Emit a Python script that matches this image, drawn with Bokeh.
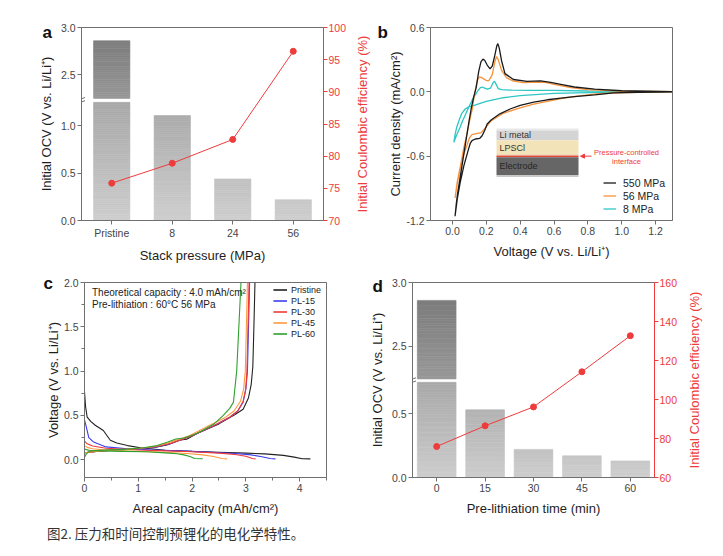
import numpy as np
from bokeh.plotting import figure
from bokeh.models import (Range1d, LinearAxis, FixedTicker, SingleIntervalTicker, Label, Legend,
                          LegendItem, Arrow, NormalHead, ColumnDataSource, Div, PrintfTickFormatter,
                          CustomJSTickFormatter)
from bokeh.layouts import row, column
from bokeh.embed import file_html
from bokeh.resources import INLINE

FONT = "Liberation Sans"
AX = "#707070"
TXT = "#1e1e1e"
TICK_TXT = "#454545"
RED = "#ee3b3b"

# ---------------- data ----------------
pressure_labels = ["Pristine", "8", "24", "56"]
ocv_pressure = [2.86, 1.11, 0.44, 0.22]
ice_pressure = [75.8, 78.9, 82.6, 96.3]

time_labels = ["0", "15", "30", "45", "60"]
ocv_time = [2.86, 0.53, 0.22, 0.17, 0.13]
ice_time = [75.9, 86.5, 96.2, 114.2, 132.7]

ocv_ticks_a = [0.0, 0.5, 1.0, 2.5, 3.0]
ocv_ticks_d = [0.0, 0.5, 2.5, 3.0]

# CV loops: cathodic scan 1.3 V -> 0.01 V, then anodic back to 1.3 V
cv550_v = [1.30, 1.10, 0.95, 0.84, 0.72, 0.64, 0.56, 0.48, 0.40, 0.34, 0.28, 0.23, 0.205, 0.19, 0.175, 0.16, 0.135, 0.115, 0.105, 0.09, 0.067, 0.045, 0.028, 0.015,
           0.022, 0.03, 0.047, 0.065, 0.08, 0.097, 0.11, 0.125, 0.14, 0.155, 0.168, 0.18, 0.19, 0.205, 0.222, 0.235, 0.25, 0.262, 0.268, 0.276, 0.29, 0.31, 0.36, 0.44, 0.52, 0.58, 0.64, 0.72, 0.84, 1.0, 1.3]
cv550_i = [-0.001, -0.004, -0.009, -0.028, -0.045, -0.058, -0.074, -0.097, -0.127, -0.16, -0.205, -0.26, -0.30, -0.36, -0.41, -0.435, -0.44, -0.455, -0.48, -0.56, -0.69, -0.85, -1.0, -1.16,
           -1.05, -0.95, -0.78, -0.6, -0.45, -0.28, -0.16, -0.05, 0.04, 0.19, 0.28, 0.305, 0.295, 0.25, 0.215, 0.24, 0.34, 0.43, 0.45, 0.41, 0.29, 0.17, 0.115, 0.097, 0.102, 0.088, 0.07, 0.045, 0.025, 0.01, 0.002]

cv56_v = [1.30, 1.0, 0.85, 0.75, 0.65, 0.56, 0.48, 0.40, 0.30, 0.225, 0.195, 0.17, 0.14, 0.115, 0.1, 0.085, 0.067, 0.045, 0.03, 0.015,
          0.028, 0.047, 0.067, 0.087, 0.105, 0.117, 0.128, 0.14, 0.15, 0.16, 0.175, 0.2, 0.215, 0.235, 0.25, 0.26, 0.27, 0.29, 0.32, 0.36, 0.42, 0.5, 0.55, 0.6, 0.7, 0.8, 1.0, 1.3]
cv56_i = [-0.001, -0.006, -0.02, -0.038, -0.06, -0.09, -0.115, -0.15, -0.2, -0.275, -0.335, -0.38, -0.39, -0.40, -0.43, -0.5, -0.58, -0.72, -0.84, -0.99,
          -0.84, -0.69, -0.52, -0.38, -0.24, -0.16, -0.04, 0.06, 0.12, 0.14, 0.13, 0.105, 0.105, 0.16, 0.28, 0.33, 0.3, 0.2, 0.13, 0.1, 0.085, 0.09, 0.088, 0.07, 0.04, 0.02, 0.006, 0.001]

cv8_v = [1.3, 1.0, 0.8, 0.6, 0.4, 0.3, 0.2, 0.15, 0.12, 0.095, 0.075, 0.055, 0.04, 0.025, 0.015, 0.008,
         0.025, 0.045, 0.06, 0.08, 0.1, 0.115, 0.13, 0.15, 0.165, 0.175, 0.19, 0.205, 0.225, 0.24, 0.248, 0.258, 0.27, 0.29, 0.35, 0.45, 0.6, 0.8, 1.0, 1.3]
cv8_i = [-0.001, -0.004, -0.008, -0.015, -0.035, -0.055, -0.09, -0.115, -0.13, -0.14, -0.16, -0.2, -0.26, -0.33, -0.4, -0.47,
         -0.4, -0.33, -0.27, -0.2, -0.13, -0.08, -0.04, 0.01, 0.04, 0.045, 0.035, 0.025, 0.035, 0.085, 0.098, 0.07, 0.03, 0.02, 0.016, 0.014, 0.013, 0.008, 0.004, 0.001]

# Panel c: discharge / charge profiles
pristine_dis_q = [0, 0.02, 0.05, 0.12, 0.2, 0.35, 0.48, 0.6, 0.8, 1.04, 1.5, 2.0, 2.5, 3.0, 3.35, 3.7, 3.9, 4.05, 4.2]
pristine_dis_v = [0.77, 0.6, 0.48, 0.43, 0.39, 0.33, 0.22, 0.19, 0.16, 0.135, 0.107, 0.095, 0.085, 0.075, 0.066, 0.05, 0.03, 0.012, 0.01]
pristine_chg_q = [0, 0.3, 0.7, 1.0, 1.3, 1.55, 1.75, 1.9, 2.1, 2.5, 2.8, 2.95, 3.05, 3.1, 3.13, 3.15, 3.17]
pristine_chg_v = [0.08, 0.1, 0.115, 0.125, 0.14, 0.17, 0.22, 0.232, 0.3, 0.405, 0.51, 0.57, 0.70, 0.85, 1.05, 1.5, 2.0]

pl15_dis_q = [0, 0.03, 0.08, 0.17, 0.4, 0.8, 1.2, 2.0, 2.8, 3.1, 3.3, 3.45, 3.55]
pl15_dis_v = [0.45, 0.38, 0.25, 0.2, 0.145, 0.125, 0.113, 0.095, 0.07, 0.055, 0.035, 0.015, 0.01]
pl15_chg_q = [0, 0.3, 0.7, 1.0, 1.3, 1.6, 1.8, 2.0, 2.4, 2.7, 2.85, 2.95, 3.0, 3.03, 3.05, 3.07]
pl15_chg_v = [0.08, 0.1, 0.115, 0.125, 0.14, 0.18, 0.225, 0.27, 0.38, 0.48, 0.55, 0.65, 0.8, 1.0, 1.5, 2.0]

pl30_dis_q = [0, 0.05, 0.15, 0.4, 1.0, 1.5, 2.0, 2.5, 2.8, 3.0, 3.12, 3.18]
pl30_dis_v = [0.21, 0.18, 0.155, 0.13, 0.11, 0.1, 0.09, 0.075, 0.06, 0.04, 0.015, 0.01]
pl30_chg_q = [0, 0.3, 0.7, 1.0, 1.3, 1.6, 1.8, 2.0, 2.4, 2.7, 2.85, 2.95, 3.0, 3.02, 3.04, 3.06]
pl30_chg_v = [0.08, 0.1, 0.115, 0.128, 0.145, 0.185, 0.225, 0.27, 0.385, 0.48, 0.55, 0.66, 0.8, 1.0, 1.5, 2.0]

pl45_dis_q = [0, 0.05, 0.15, 0.5, 1.0, 1.5, 1.96, 2.2, 2.4, 2.55, 2.65]
pl45_dis_v = [0.16, 0.14, 0.125, 0.105, 0.095, 0.085, 0.068, 0.055, 0.037, 0.015, 0.01]
pl45_chg_q = [0, 0.3, 0.7, 1.0, 1.3, 1.55, 1.75, 1.95, 2.3, 2.6, 2.78, 2.9, 2.96, 2.99, 3.01, 3.03]
pl45_chg_v = [0.08, 0.1, 0.115, 0.128, 0.15, 0.19, 0.23, 0.27, 0.38, 0.47, 0.55, 0.66, 0.8, 1.0, 1.5, 2.0]

pl60_dis_q = [0, 0.1, 0.3, 0.7, 1.16, 1.5, 1.72, 1.85, 1.96, 2.05, 2.2]
pl60_dis_v = [0.12, 0.105, 0.1, 0.095, 0.09, 0.078, 0.068, 0.055, 0.037, 0.015, 0.012]
pl60_chg_q = [0, 0.04, 0.1, 0.4, 0.8, 1.1, 1.35, 1.55, 1.7, 1.85, 2.1, 2.4, 2.58, 2.7, 2.77, 2.83, 2.87, 2.91]
pl60_chg_v = [0.03, 0.07, 0.1, 0.11, 0.12, 0.135, 0.16, 0.2, 0.235, 0.245, 0.3, 0.4, 0.5, 0.58, 0.65, 1.0, 1.5, 2.0]

caption = "图2. 压力和时间控制预锂化的电化学特性。"
ICE_TITLE = "Initial Coulombic efficiency (%)"


# ---------------- helpers ----------------
def style_axis(ax, color=AX, label_color=TXT, tick_color=TICK_TXT, lab_sd=2, ax_sd=4):
    ax.axis_line_color = color
    ax.major_tick_line_color = color
    ax.minor_tick_line_color = None
    ax.major_tick_out = 4
    ax.major_tick_in = 0
    ax.major_label_text_font = FONT
    ax.major_label_text_font_size = "10.5px"
    ax.major_label_text_color = tick_color
    ax.major_label_standoff = lab_sd
    ax.axis_label_text_font = FONT
    ax.axis_label_text_font_size = "13px"
    ax.axis_label_text_font_style = "normal"
    ax.axis_label_text_color = label_color
    ax.axis_label_standoff = ax_sd


def title_axis(label, color, standoff):
    """an axis that only carries a vertical title (no line, ticks or tick labels)"""
    ax = LinearAxis(ticker=FixedTicker(ticks=[]), axis_label=label)
    style_axis(ax, color=None, label_color=color, ax_sd=standoff)
    ax.major_tick_out = 0
    ax.major_label_standoff = 0
    return ax


def base_fig(width, height, xr, yr, left, right, top, bottom, **kw):
    p = figure(width=width, height=height, x_range=xr, y_range=yr, output_backend="svg",
               toolbar_location=None, min_border_left=left, min_border_right=right,
               min_border_top=top, min_border_bottom=bottom, **kw)
    p.grid.grid_line_color = None
    p.outline_line_color = AX
    p.outline_line_width = 1
    p.background_fill_color = "white"
    p.border_fill_color = "white"
    return p


def panel_letter(p, let, offset, standoff):
    p.title.text = let
    p.title.align = "left"
    p.title.offset = offset
    p.title.text_font = FONT
    p.title.text_font_size = "17px"
    p.title.text_font_style = "bold"
    p.title.text_color = "#111111"
    p.title.standoff = standoff


def mapper(fl, ft, fw, fh, x0, x1, y0, y1):
    """pixel (absolute page px of a panel) -> data coordinates of that panel"""
    fx = lambda px: x0 + (px - fl) * (x1 - x0) / fw
    fy = lambda py: y1 - (py - ft) * (y1 - y0) / fh
    return fx, fy


def brk(v, L, U, g):
    return round(v if v <= L else L + g + (v - U), 6)


def gray(level):
    l = int(round(level))
    return "#%02x%02x%02x" % (l, l, l)


def bar_bands(xs, vals, L, U, g, top_val, step):
    x_, b_, t_, c_ = [], [], [], []
    for x, v in zip(xs, vals):
        top_lo = min(v, L)
        n = max(1, int(np.ceil(top_lo / step)))
        e = np.linspace(0, top_lo, n + 1)
        for b, t in zip(e[:-1], e[1:]):
            m = 0.5 * (b + t)
            x_.append(x); b_.append(b); t_.append(t)
            c_.append(gray(206 - 38 * m / L))
        if v > U:
            n = max(1, int(np.ceil((v - U) / step)))
            e = np.linspace(U, v, n + 1)
            for b, t in zip(e[:-1], e[1:]):
                m = 0.5 * (b + t)
                x_.append(x); b_.append(brk(b, L, U, g)); t_.append(brk(t, L, U, g))
                c_.append(gray(152 - 34 * (m - U) / (top_val - U)))
    return ColumnDataSource(dict(x=x_, bottom=b_, top=t_, color=c_))


def text(p, s, x, y, size="13px", color=TXT, angle=0.0, align="center", bold=False):
    p.add_layout(Label(x=x, y=y, text=s, text_font=FONT, text_font_size=size,
                       text_font_style="bold" if bold else "normal", text_color=color,
                       angle=angle, text_align=align, text_baseline="middle"))


def bar_panel(width, height, borders, frame, cats, ocv, ice, ticks, L, U, g,
              bar_w, ice_range, ice_step, xlabel, left_sd):
    left, right, top, bottom = borders
    fl, ft, fw, fh = frame
    ymax = brk(3.0, L, U, g)
    n = len(cats)
    p = base_fig(width, height, Range1d(0, n), Range1d(0, ymax), left, right, top, bottom)
    fx, fy = mapper(fl, ft, fw, fh, 0, n, 0, ymax)
    xs = [i + 0.5 for i in range(n)]
    src = bar_bands(xs, ocv, L, U, g, 3.0, 0.02)
    p.vbar(x="x", bottom="bottom", top="top", width=bar_w, fill_color="color",
           line_color="color", line_width=0.6, source=src)
    # left axis (broken)
    p.yaxis.ticker = FixedTicker(ticks=[brk(t, L, U, g) for t in ticks])
    p.yaxis.formatter = CustomJSTickFormatter(args=dict(labs=["%.1f" % t for t in ticks]),
                                              code="return labs[index];")
    p.yaxis.axis_label = "Initial OCV (V vs. Li/Li⁺)"
    style_axis(p.yaxis[0], lab_sd=2, ax_sd=left_sd)
    # break marks
    ym = L + g / 2
    dxp = fx(fl + 3.5) - fx(fl)
    dyp = fy(ft) - fy(ft + 1.0)
    for d in (-1.6, 1.6):
        p.add_layout(Arrow(end=None, x_start=-dxp, y_start=ym + (d - 1.3) * dyp,
                           x_end=dxp, y_end=ym + (d + 1.3) * dyp, line_color=AX, line_width=1))
    # bottom axis
    p.xaxis.ticker = FixedTicker(ticks=xs)
    p.xaxis.formatter = CustomJSTickFormatter(args=dict(labs=list(cats)), code="return labs[index];")
    p.xaxis.axis_label = xlabel
    style_axis(p.xaxis[0], lab_sd=2, ax_sd=6)
    # right axis (its title is drawn by the neighbouring figure so that it reads bottom-to-top)
    p.extra_y_ranges = {"ice": Range1d(*ice_range)}
    rax = LinearAxis(y_range_name="ice", ticker=SingleIntervalTicker(interval=ice_step, num_minor_ticks=0))
    style_axis(rax, color=RED, label_color=RED, tick_color=RED, lab_sd=1, ax_sd=0)
    p.add_layout(rax, "right")
    p.line(xs, ice, y_range_name="ice", line_color=RED, line_width=1)
    p.scatter(xs, ice, y_range_name="ice", size=6, fill_color=RED, line_color=RED)
    return p


# ---------------- panel a ----------------
pa = bar_panel(350, 265, (81, 27, 27, 43), (81, 27, 242, 195), pressure_labels, ocv_pressure,
               ice_pressure, ocv_ticks_a, 1.25, 2.25, 0.042, 0.6, (70, 100), 5,
               "Stack pressure (MPa)", 4)
panel_letter(pa, "a", -39, -28)

# ---------------- panel b ----------------
BX0, BX1, BY0, BY1 = -0.13, 1.30, -1.2, 0.6
pb = base_fig(373, 265, Range1d(BX0, BX1), Range1d(BY0, BY1), 80, 51, 27, 43)
bx, by = mapper(430, 27, 242, 195, BX0, BX1, BY0, BY1)
r8 = pb.line(cv8_v, cv8_i, line_color="#2ec7c4", line_width=1.3)
r56 = pb.line(cv56_v, cv56_i, line_color="#f7923a", line_width=1.3)
r550 = pb.line(cv550_v, cv550_i, line_color="#1a1a1a", line_width=1.3)
pb.xaxis.ticker = FixedTicker(ticks=[0.0, 0.2, 0.4, 0.6, 0.8, 1.0, 1.2])
pb.xaxis.formatter = PrintfTickFormatter(format="%.1f")
pb.yaxis.ticker = FixedTicker(ticks=[-1.2, -0.6, 0.0, 0.6])
pb.yaxis.formatter = PrintfTickFormatter(format="%.1f")
pb.xaxis.axis_label = "Voltage (V vs. Li/Li⁺)"
pb.yaxis.axis_label = "Current density (mA/cm²)"
style_axis(pb.xaxis[0], lab_sd=2, ax_sd=6)
style_axis(pb.yaxis[0], lab_sd=2, ax_sd=0)
pb.add_layout(title_axis(ICE_TITLE, RED, 16), "left")   # right-axis title of panel a

layers = [(129, 131, "#e8e8e8"), (131, 141, "#d4d4d4"), (141, 155.5, "#f2e4b8"),
          (155.5, 156.5, "#eba58c"), (156.5, 158, "#e04a3a"), (158, 176, "#666666"),
          (176, 178, "#c9c9c9")]
pb.quad(left=[bx(496)] * len(layers), right=[bx(578)] * len(layers),
        top=[by(l[0]) for l in layers], bottom=[by(l[1]) for l in layers],
        fill_color=[l[2] for l in layers], line_color=None)
for txt, py, col in [("Li metal", 136, "#333333"), ("LPSCl", 148.5, "#333333"), ("Electrode", 167, "#262626")]:
    text(pb, txt, bx(499), by(py), size="9px", color=col, align="left")
pb.add_layout(Arrow(x_start=bx(591), y_start=by(157), x_end=bx(580), y_end=by(157),
                    line_color=RED, line_width=1,
                    end=NormalHead(size=4, fill_color=RED, line_color=RED)))
for txt, py in [("Pressure-controlled", 153), ("interface", 162.5)]:
    text(pb, txt, bx(626), by(py), size="7.5px", color=RED)
leg_b = Legend(items=[LegendItem(label="550 MPa", renderers=[r550]),
                      LegendItem(label="56 MPa", renderers=[r56]),
                      LegendItem(label="8 MPa", renderers=[r8])],
               location=(173, 5), border_line_color=None, background_fill_alpha=0,
               padding=0, margin=0, spacing=0, glyph_width=13, glyph_height=13, label_height=13,
               label_standoff=7, label_text_font=FONT, label_text_font_size="10.5px",
               label_text_color="#222222")
pb.add_layout(leg_b)
panel_letter(pb, "b", -53, -29)

# ---------------- panel c ----------------
pc = base_fig(362, 254, Range1d(0, 4.5), Range1d(-0.2, 2.0), 84, 36, 17, 41)
cx, cy = mapper(84, 282, 242, 196, 0, 4.5, -0.2, 2.0)
series_c = [("Pristine", "#222222", pristine_dis_q, pristine_dis_v, pristine_chg_q, pristine_chg_v),
            ("PL-15", "#3c3cf0", pl15_dis_q, pl15_dis_v, pl15_chg_q, pl15_chg_v),
            ("PL-30", "#f03a3a", pl30_dis_q, pl30_dis_v, pl30_chg_q, pl30_chg_v),
            ("PL-45", "#ff9a3c", pl45_dis_q, pl45_dis_v, pl45_chg_q, pl45_chg_v),
            ("PL-60", "#2fa02f", pl60_dis_q, pl60_dis_v, pl60_chg_q, pl60_chg_v)]
items_c = []
for name, col, dq, dv, cq, cv in series_c:
    r1 = pc.line(dq, dv, line_color=col, line_width=1.1)
    r2 = pc.line(cq, cv, line_color=col, line_width=1.1)
    items_c.append(LegendItem(label=name, renderers=[r1, r2]))
pc.xaxis.ticker = FixedTicker(ticks=[0, 1, 2, 3, 4], minor_ticks=[0.5, 1.5, 2.5, 3.5, 4.5])
pc.yaxis.ticker = FixedTicker(ticks=[0.0, 0.5, 1.0, 1.5, 2.0], minor_ticks=[0.25, 0.75, 1.25, 1.75])
pc.yaxis.formatter = PrintfTickFormatter(format="%.1f")
pc.xaxis.axis_label = "Areal capacity (mAh/cm²)"
pc.yaxis.axis_label = "Voltage (V vs. Li/Li⁺)"
style_axis(pc.xaxis[0], lab_sd=2, ax_sd=6)
style_axis(pc.yaxis[0], lab_sd=2, ax_sd=0)
for ax in (pc.xaxis[0], pc.yaxis[0]):
    ax.minor_tick_line_color = AX
    ax.minor_tick_out = 3
    ax.minor_tick_in = 0
leg_c = Legend(items=items_c, location=(189, 138), border_line_color=None, background_fill_alpha=0,
               padding=0, margin=0, spacing=0, glyph_width=14, glyph_height=11, label_height=11,
               label_standoff=4, label_text_font=FONT, label_text_font_size="9px",
               label_text_color="#222222")
pc.add_layout(leg_c)
for txt, py in [("Theoretical capacity : 4.0 mAh/cm²", 291.7), ("Pre-lithiation : 60°C 56 MPa", 304.3)]:
    text(pc, txt, cx(91.5), cy(py), size="10px", color="#222222", align="left")
panel_letter(pc, "c", -41, -20)

# ---------------- panel d ----------------
pd_ = bar_panel(321, 254, (50, 29, 17, 42), (412, 282, 242, 195), time_labels, ocv_time, ice_time,
                ocv_ticks_d, 0.745, 2.245, 0.026, 0.8, (60, 160), 20,
                "Pre-lithiation time (min)", 4)
panel_letter(pd_, "d", -40, -27)

# narrow companion figure that carries panel d's right-axis title
sd = figure(width=40, height=254, x_range=Range1d(0, 1), y_range=Range1d(0, 1),
            x_axis_type=None, y_axis_type=None, output_backend="svg", toolbar_location=None,
            min_border_left=25, min_border_right=0, min_border_top=17, min_border_bottom=42)
sd.outline_line_color = None
sd.grid.grid_line_color = None
sd.add_layout(title_axis(ICE_TITLE, RED, 11), "left")

cap = Div(text=caption, width=723, height=37,
          styles={"font-family": "'Noto Sans CJK SC', sans-serif", "font-size": "13.5px",
                  "color": "#333333", "padding-left": "42px", "padding-top": "0px"})

layout = column(row(pa, pb), row(pc, pd_, sd), cap)
open("out.html", "w").write(file_html(layout, INLINE))
